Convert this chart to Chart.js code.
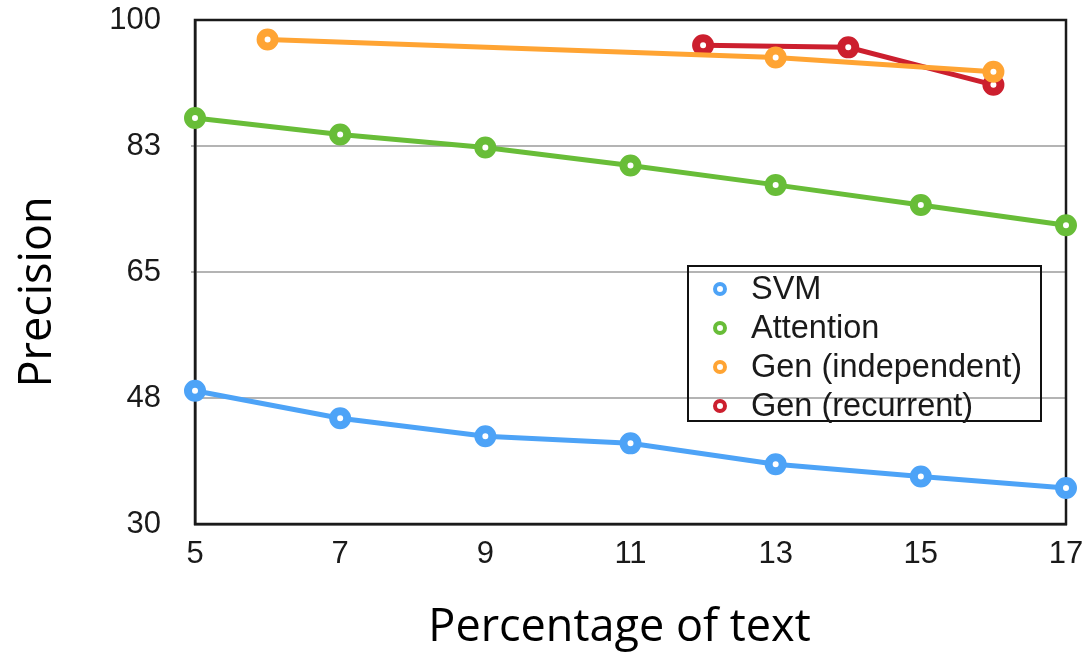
<!DOCTYPE html>
<html>
<head>
<meta charset="utf-8">
<script src="https://cdn.jsdelivr.net/npm/chart.js@4/dist/chart.umd.min.js"></script>
<style>
html,body{margin:0;padding:0;background:#fff;}
#wrap{position:relative;width:1084px;height:656px;}
#legend{position:absolute;left:687px;top:265px;width:351px;height:153px;border:2px solid #111;font-family:"Liberation Sans",Arial,sans-serif;font-size:32.5px;color:#1a1a1a;}
.item{position:absolute;left:0;height:38px;line-height:38px;white-space:nowrap;}
.mk{position:absolute;left:24px;top:13px;width:6px;height:6px;border-radius:50%;border:4px solid;background:#fff;}
.lb{position:absolute;left:62px;top:0;}
</style>
</head>
<body>
<div id="wrap">
<canvas id="c" width="1084" height="656"></canvas>
<div id="legend"></div>
</div>
<script>
const xValues = [5, 7, 9, 11, 13, 15, 17];
const svm = [48.5, 44.7, 42.2, 41.2, 38.3, 36.6, 35.0];
const attention = [86.4, 84.1, 82.3, 79.8, 77.1, 74.3, 71.5];
const genIndepX = [6, 13, 16];
const genIndep = [97.3, 94.8, 92.8];
const genRecX = [12, 14, 16];
const genRec = [96.5, 96.2, 91.0];
const seriesNames = ["SVM", "Attention", "Gen (independent)", "Gen (recurrent)"];
const seriesColors = ["#4da3f7", "#68bd38", "#ffa433", "#cc1f2e"];
const yTickValues = [30, 47.5, 65, 82.5, 100];
const yTickLabels = ["30", "48", "65", "83", "100"];
const xTickLabels = ["5", "7", "9", "11", "13", "15", "17"];
const yTitle = "Precision";
const xTitle = "Percentage of text";

function pts(xs, ys){ return xs.map((x,i)=>({x:x, y:ys[i]})); }
const seriesData = [pts(xValues, svm), pts(xValues, attention), pts(genIndepX, genIndep), pts(genRecX, genRec)];

const datasets = seriesData.map((d,i)=>({
  label: seriesNames[i],
  data: d,
  borderColor: seriesColors[i],
  backgroundColor: '#ffffff',
  pointBorderColor: seriesColors[i],
  pointBackgroundColor: '#ffffff',
  borderWidth: 5,
  pointRadius: 7,
  pointBorderWidth: 8,
  tension: 0,
  clip: false
}));
const frame = {
  id: 'frame',
  beforeDatasetsDraw(chart){
    const a = chart.chartArea, ctx = chart.ctx;
    ctx.save();
    ctx.strokeStyle = '#1a1a1a';
    ctx.lineWidth = 2.5;
    ctx.strokeRect(a.left, a.top, a.right - a.left, a.bottom - a.top);
    ctx.restore();
  },
  afterDraw(chart){
    const ctx = chart.ctx, a = chart.chartArea;
    ctx.save();
    ctx.fillStyle = '#000';
    ctx.font = '45px "Open Sans", "Noto Sans", sans-serif';
    ctx.textAlign = 'center';
    ctx.textBaseline = 'middle';
    ctx.fillText(xTitle, (a.left + a.right) / 2 - 11, a.bottom + 104);
    ctx.translate(38, (a.top + a.bottom) / 2 + 20);
    ctx.rotate(-Math.PI / 2);
    ctx.fillText(yTitle, 0, 0);
    ctx.restore();
  }
};

new Chart(document.getElementById('c'), {
  type: 'line',
  data: { datasets: datasets },
  plugins: [frame],
  options: {
    responsive: false,
    animation: false,
    layout: { autoPadding: false, padding: { left: 0, right: 18, top: 20, bottom: 0 } },
    plugins: { legend: { display: false }, tooltip: { enabled: false } },
    scales: {
      x: {
        type: 'linear', min: 5, max: 17,
        afterBuildTicks(s){ s.ticks = xValues.map(v=>({value:v})); },
        ticks: {
          callback: (v)=>{ const i = xValues.indexOf(v); return i>=0 ? xTickLabels[i] : ''; },
          font: { family: '"Liberation Sans", Arial, sans-serif', size: 31 },
          color: '#1a1a1a', padding: 12, maxRotation: 0, autoSkip: false
        },
        grid: { display: false, drawTicks: false },
        border: { display: true, color: '#1a1a1a', width: 2.5 },
        afterFit(s){ s.height = 132; s.paddingLeft = 0; s.paddingRight = 0; }
      },
      y: {
        type: 'linear', min: 30, max: 100,
        afterBuildTicks(s){ s.ticks = yTickValues.map(v=>({value:v})); },
        ticks: {
          callback: (v)=>{ const i = yTickValues.indexOf(v); return i>=0 ? yTickLabels[i] : ''; },
          font: { family: '"Liberation Sans", Arial, sans-serif', size: 31 },
          color: '#1a1a1a', padding: 30, autoSkip: false
        },
        grid: {
          color: (c)=> (c.tick && (c.tick.value===30 || c.tick.value===100)) ? 'rgba(0,0,0,0)' : '#b4b4b4',
          lineWidth: 2, drawTicks: true, tickLength: 4
        },
        border: { display: true, color: '#1a1a1a', width: 2.5 },
        afterFit(s){ s.width = 195; s.paddingTop = 0; s.paddingBottom = 0; }
      }
    }
  }
});

const lg = document.getElementById('legend');
seriesNames.forEach((n,i)=>{
  const it = document.createElement('div');
  it.className = 'item';
  it.style.top = (2 + i*39) + 'px';
  const mk = document.createElement('div'); mk.className='mk'; mk.style.borderColor = seriesColors[i];
  const lb = document.createElement('div'); lb.className='lb'; lb.textContent = n;
  it.appendChild(mk); it.appendChild(lb); lg.appendChild(it);
});
</script>
</body>
</html>
